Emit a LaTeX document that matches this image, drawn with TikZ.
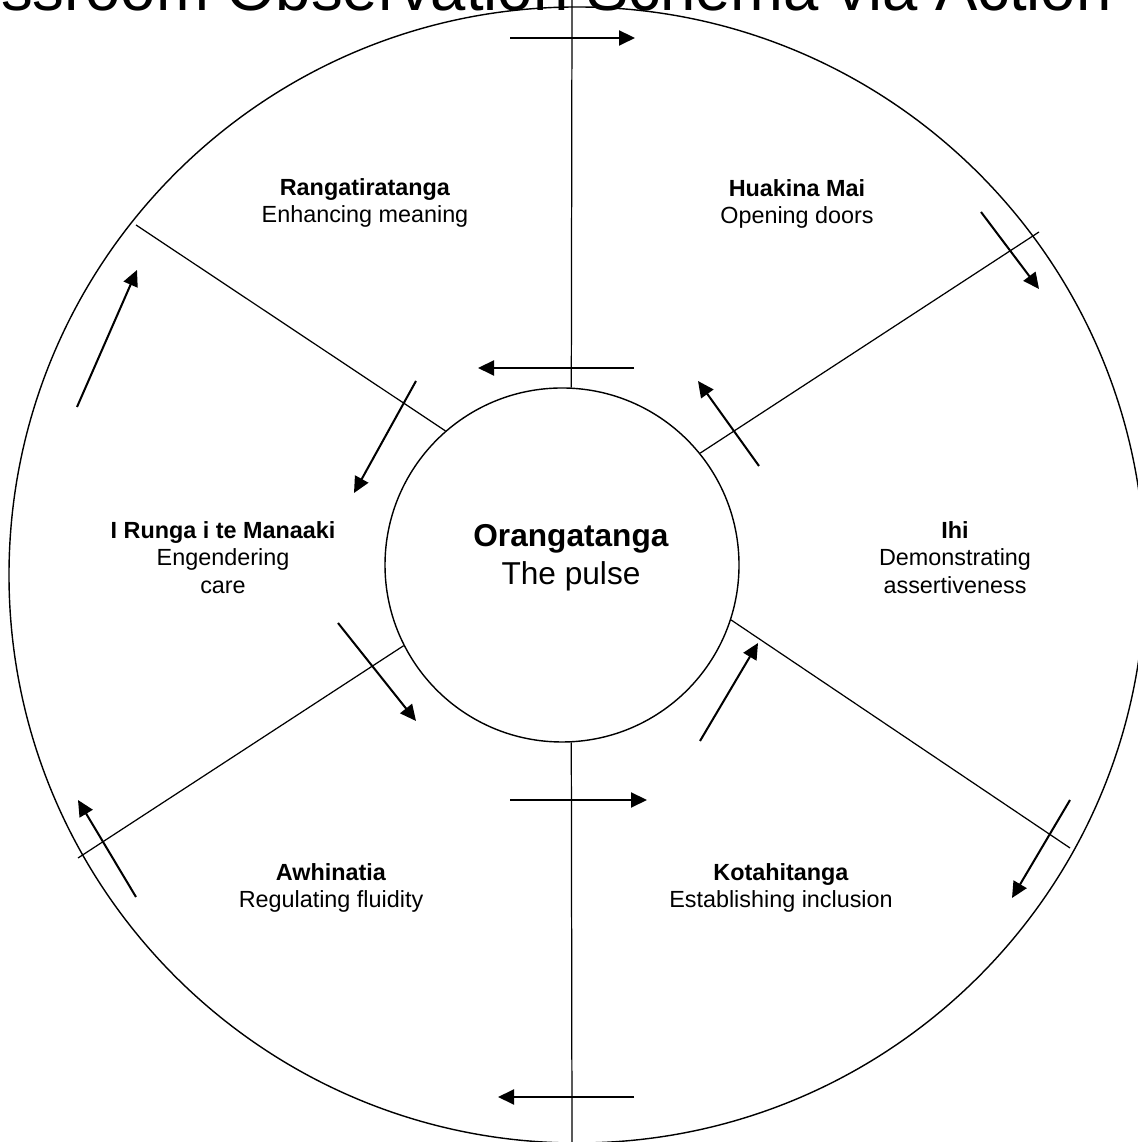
\documentclass[tikz,border=0pt]{standalone}
\usepackage{fontspec}
\setmainfont{Liberation Sans}
\usetikzlibrary{arrows.meta}

\begin{document}
\begin{tikzpicture}[
  spoke/.style={line width=0.7pt},
  ring/.style={line width=0.8pt},
  flow/.style={-{Triangle[length=0.32cm,width=0.3cm]}, line width=1.15pt},
  lbl/.style={anchor=north, align=center, inner sep=0pt, font=\fontsize{13.3}{15.7}\selectfont}
]
\path[use as bounding box, clip] (0,0) rectangle (22.76,22.84);

% Title - cut off at the top
\node (title) [anchor=base east, inner sep=0pt, font=\fontsize{36.1}{40}\selectfont] at (22.24,22.63) {ssroom Observation Schema via Action};

% Outer ring
\draw[ring] (11.54,11.34) circle (11.36);

% Centre circle
\node (pulse) [circle, draw, ring, minimum size=7.08cm, inner sep=0pt] at (11.24,11.54) {};
\node (pulsetext) [anchor=north, align=center, inner sep=0pt, font=\fontsize{18}{21.6}\selectfont] at (11.42,12.36) {\textbf{Orangatanga}\\The pulse};

% Spokes
\coordinate (tp) at (11.44,22.84);
\coordinate (bt) at (11.44,0);
\coordinate (ul) at (2.72,18.34);
\coordinate (ur) at (20.78,18.20);
\coordinate (lr) at (21.40,5.88);
\coordinate (ll) at (1.56,5.68);
\draw[spoke] (tp) -- (pulse.87);
\draw[spoke] (bt) -- (pulse.273);
\draw[spoke] (ul) -- (pulse.131);
\draw[spoke] (ur) -- (pulse.39);
\draw[spoke] (lr) -- (pulse.-18);
\draw[spoke] (ll) -- (pulse.207);

% Arrows - outer ring, clockwise
\draw[flow] (10.20,22.08) -- (12.70,22.08);
\draw[flow] (19.62,18.60) -- (20.78,17.06);
\draw[flow] (21.40,6.84) -- (20.24,4.88);
\draw[flow] (12.68,0.90) -- (9.96,0.90);
\draw[flow] (2.72,4.90) -- (1.56,6.84);
\draw[flow] (1.54,14.70) -- (2.74,17.44);

% Arrows - inner ring, anticlockwise
\draw[flow] (12.68,15.48) -- (9.56,15.48);
\draw[flow] (8.32,15.22) -- (7.08,12.98);
\draw[flow] (6.76,10.38) -- (8.32,8.42);
\draw[flow] (10.20,6.84) -- (12.94,6.84);
\draw[flow] (14.00,8.02) -- (15.16,9.98);
\draw[flow] (15.18,13.52) -- (13.96,15.22);

% Labels of the six parts
\node (rang) [lbl] at (7.30,19.28) {\textbf{Rangatiratanga}\\Enhancing meaning};
\node (huak) [lbl] at (15.94,19.26) {\textbf{Huakina Mai}\\Opening doors};
\node (ihi) [lbl] at (19.10,12.42) {\textbf{Ihi}\\Demonstrating\\assertiveness};
\node (kota) [lbl] at (15.62,5.58) {\textbf{Kotahitanga}\\Establishing inclusion};
\node (awhi) [lbl] at (6.62,5.58) {\textbf{Awhinatia}\\Regulating fluidity};
\node (manaaki) [lbl] at (4.46,12.42) {\textbf{I Runga i te Manaaki}\\Engendering\\care};

\end{tikzpicture}
\end{document}
